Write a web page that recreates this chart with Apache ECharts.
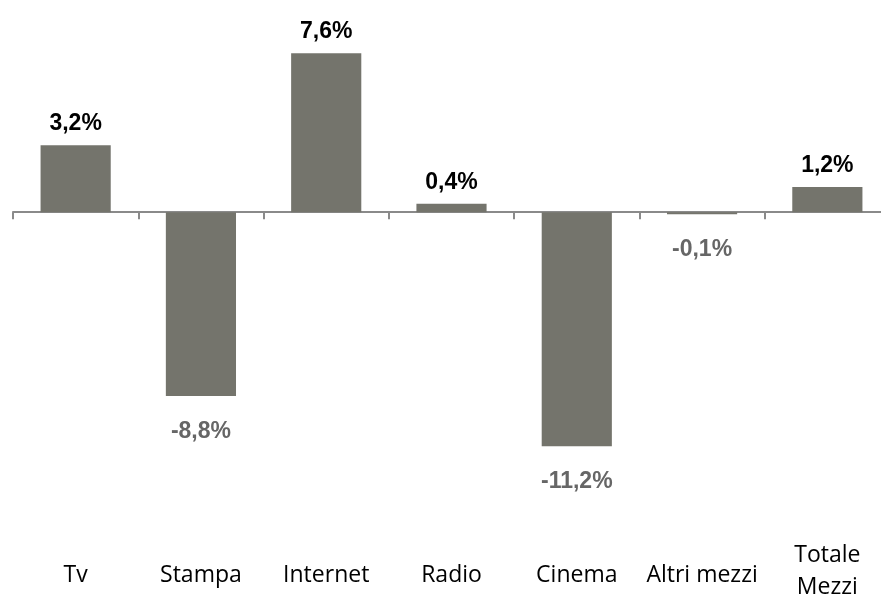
<!DOCTYPE html>
<html>
<head>
<meta charset="utf-8">
<script src="https://cdn.jsdelivr.net/npm/echarts@6/dist/echarts.min.js"></script>
<style>html,body{margin:0;padding:0;background:#fff;}#c{width:881px;height:597px;}</style>
</head>
<body>
<div id="c"></div>
<script>
var categories = ['Tv', 'Stampa', 'Internet', 'Radio', 'Cinema', 'Altri mezzi', 'Totale\nMezzi'];
var values = [3.2, -8.8, 7.6, 0.4, -11.2, -0.1, 1.2];

var chart = echarts.init(document.getElementById('c'));
function fmt(v) { return v.toFixed(1).replace('.', ',') + '%'; }
var catFont = '"Open Sans", "Noto Sans", sans-serif';
chart.setOption({
  animation: false,
  grid: { left: 13, right: -9, top: 45, height: 418, outerBoundsMode: 'none', containLabel: false },
  xAxis: [{
    type: 'category',
    data: categories,
    axisLine: { onZero: true, lineStyle: { color: '#8a8a8a', width: 2 } },
    axisTick: { show: true, length: 7, lineStyle: { color: '#8a8a8a', width: 2 } },
    axisLabel: { show: false }
  }, {
    type: 'category',
    data: categories,
    position: 'bottom',
    axisLine: { show: false, onZero: false },
    axisTick: { show: false },
    axisLabel: {
      margin: 112,
      verticalAlign: 'middle',
      fontFamily: catFont,
      fontSize: 23,
      lineHeight: 33,
      color: '#000',
      interval: 0,
      formatter: function (v) {
        if (v.indexOf('\n') < 0) return v;
        return v.split('\n').map(function (s) { return '{m|' + s + '}'; }).join('\n') + '\n{p| }';
      },
      rich: {
        m: { fontFamily: catFont, fontSize: 23, lineHeight: 32, color: '#000' },
        p: { fontSize: 1, lineHeight: 7 }
      }
    }
  }],
  yAxis: { type: 'value', min: -12, max: 8, show: false, splitLine: { show: false } },
  series: [{
    type: 'bar',
    xAxisIndex: 0,
    barWidth: '56%',
    data: values.map(function (v) {
      return {
        value: v,
        label: {
          position: v >= 0 ? 'top' : 'bottom',
          distance: v >= 0 ? 10 : 24,
          color: v >= 0 ? '#000' : '#666'
        }
      };
    }),
    itemStyle: { color: '#74746c' },
    label: {
      show: true,
      fontFamily: '"Liberation Sans", Arial, sans-serif',
      fontWeight: 'bold',
      fontSize: 23,
      formatter: function (p) { return fmt(p.value); }
    }
  }]
});
</script>
</body>
</html>
